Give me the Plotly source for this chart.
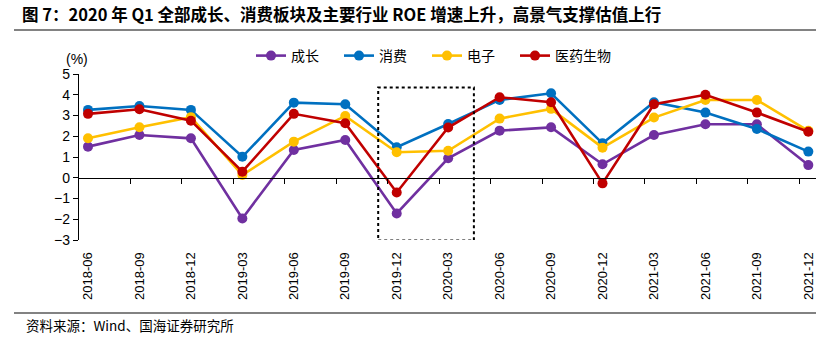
import plotly.graph_objects as go

# Quarterly ROE growth (%)
quarters = ["2018-06", "2018-09", "2018-12", "2019-03", "2019-06", "2019-09",
            "2019-12", "2020-03", "2020-06", "2020-09", "2020-12", "2021-03",
            "2021-06", "2021-09", "2021-12"]
growth = [1.50, 2.06, 1.90, -1.96, 1.34, 1.82, -1.72, 0.94, 2.27, 2.43, 0.65, 2.06, 2.58, 2.58, 0.61]
consumer = [3.27, 3.46, 3.27, 1.01, 3.62, 3.54, 1.47, 2.59, 3.75, 4.07, 1.66, 3.64, 3.14, 2.35, 1.26]
electronics = [1.90, 2.43, 2.92, 0.13, 1.74, 2.98, 1.23, 1.30, 2.85, 3.32, 1.45, 2.90, 3.75, 3.75, 2.26]
pharma = [3.08, 3.30, 2.75, 0.29, 3.08, 2.63, -0.71, 2.42, 3.88, 3.64, -0.27, 3.54, 4.00, 3.14, 2.22]

series_names = ["成长", "消费", "电子", "医药生物"]
series_values = [growth, consumer, electronics, pharma]
series_colors = ["#7030A0", "#0070C0", "#FFC000", "#C00000"]

y_ticks = [5, 4, 3, 2, 1, 0, -1, -2, -3]

W, H = 816, 346
ML, MR, MT, MB = 79, 0, 74, 106
PW, PH = W - ML - MR, H - MT - MB

def px_x(p):
    return (p - ML) / PW

def px_y(p):
    return (H - MB - p) / PH

idx = list(range(len(quarters)))
shift = 0.175  # tick marks sit a bit left of each point

fig = go.Figure()
for name, vals, col in zip(series_names, series_values, series_colors):
    fig.add_trace(go.Scatter(
        x=idx, y=vals, name=name, mode="lines+markers",
        line=dict(color=col, width=2.6),
        marker=dict(color=col, size=10),
        cliponaxis=False,
        legendwidth=max(43, 15 * len(name)),
    ))

# axis at y=0 with small downward ticks
fig.add_trace(go.Scatter(x=[0], y=[0], xaxis="x2", showlegend=False,
                         mode="markers", marker=dict(opacity=0), hoverinfo="skip"))

x_range = [-shift, (W - 88.3) / 51.43]

fig.update_layout(
    width=W, height=H,
    margin=dict(l=ML, r=MR, t=MT, b=MB),
    paper_bgcolor="white", plot_bgcolor="white",
    font=dict(family="Liberation Sans, Arial", color="#000000"),
    title=dict(
        text="图 7：2020 年 Q1 全部成长、消费板块及主要行业 ROE 增速上升，高景气支撑估值上行",
        xref="container", yref="container", x=22 / W, y=1 - 15 / H,
        xanchor="left", yanchor="middle",
        font=dict(family="Noto Sans CJK SC", size=16.5, color="#000000", weight="bold"),
    ),
    xaxis=dict(
        range=x_range, tickmode="array", tickvals=idx, ticktext=quarters,
        tickangle=-90, showgrid=False, zeroline=False, showline=False,
        ticks="outside", ticklen=6, tickcolor="rgba(0,0,0,0)",
        tickfont=dict(family="Liberation Sans, Arial", size=13, color="#000000"),
    ),
    xaxis2=dict(
        range=x_range, overlaying="x", anchor="free", position=3 / 8,
        showline=True, linecolor="#000000", linewidth=1.4,
        tickmode="array", tickvals=[i - shift for i in idx[1:]],
        ticks="outside", ticklen=5, tickwidth=1.4, tickcolor="#000000",
        showticklabels=False, showgrid=False, zeroline=False,
    ),
    yaxis=dict(
        range=[-3, 5], tickmode="array", tickvals=y_ticks,
        showgrid=False, zeroline=False, showline=True,
        linecolor="#000000", linewidth=1.4,
        ticks="outside", ticklen=5, tickwidth=1.4, tickcolor="#000000",
        tickfont=dict(family="Liberation Sans, Arial", size=14, color="#000000"),
    ),
    legend=dict(
        orientation="h", x=px_x(251), y=px_y(56), xanchor="left", yanchor="middle",
        font=dict(family="Noto Sans CJK SC", size=14, color="#000000"),
        bgcolor="rgba(0,0,0,0)", entrywidthmode="pixels",
        itemwidth=30,
    ),
    showlegend=True,
)

# highlighted period box
fig.add_shape(type="rect", xref="x", yref="y", x0=5.64, x1=7.5, y0=-3.03, y1=4.35,
              line=dict(color="#000000", width=2, dash="dot"))

# rules under the title and above the source line
for py in (30, 313):
    fig.add_shape(type="line", xref="paper", yref="paper",
                  x0=px_x(14), x1=px_x(W), y0=px_y(py), y1=px_y(py),
                  line=dict(color="#595959", width=1.5))

fig.add_annotation(text="(%)", xref="paper", yref="paper", x=px_x(77), y=px_y(59),
                   xanchor="center", yanchor="middle", showarrow=False,
                   font=dict(family="Liberation Sans, Arial", size=14, color="#000000"))
fig.add_annotation(text="资料来源：Wind、国海证券研究所", xref="paper", yref="paper",
                   x=px_x(24), y=px_y(325), xanchor="left", yanchor="middle",
                   showarrow=False,
                   font=dict(family="Noto Sans CJK SC", size=13.5, color="#000000"))

fig.write_html("out.html")
